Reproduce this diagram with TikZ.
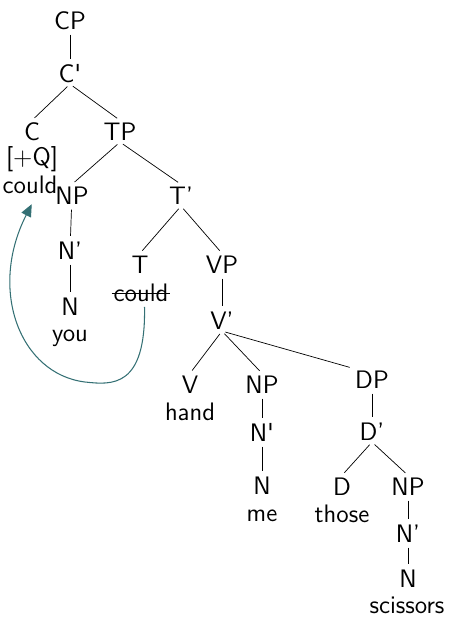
\documentclass[tikz,border=0pt]{standalone}
\usetikzlibrary{positioning,arrows.meta}
\renewcommand{\familydefault}{\sfdefault}
\definecolor{moveteal}{RGB}{52,112,116}
\tikzset{
	cat/.style={
		inner sep=1pt,
		font=\Large,
		anchor=base,
		text height=10pt,
		text depth=0pt
	}
}
\newcommand{\sq}{\textquotesingle}

\begin{document}
\begin{tikzpicture}[x=0.02cm,y=-0.02cm]
			\tikzstyle{word}=[inner sep=1pt, font=\Large, anchor=base]
			\tikzstyle{connect}=[thin, shorten >=2pt, shorten <=2pt]
			\tikzstyle{move}=[moveteal, semithick, -{Triangle[length=7pt,width=6pt]}]
			\useasboundingbox (0,0) rectangle (450,623);
			
			% coordinates give the baselines
			\node[cat] (cp) at (70,29) {CP};
			\node[cat] (cbar) at (70,82) {C\sq};
			\node[cat] (c) at (32,140) {C};
			\node[cat] (tp) at (120,140) {TP};
			\node[word] (q) at (32,165) {[+Q]};
			\node[word] (could) at (30,193) {could};
			\node[cat] (np) at (72,204) {NP};
			\node[cat] (tbar) at (181,204) {T'};
			\node[cat] (nbar) at (70,259) {N'};
			\node[cat] (n) at (70,315) {N};
			\node[word] (you) at (70,341) {you};
			\node[cat] (t) at (140,273) {T};
			\node[word] (trace) at (141,301) {could};
			\node[cat] (vp) at (222,273) {VP};
			\node[cat] (vbar) at (222,329) {V'};
			
			\node[cat] (v) at (190,393) {V};
			\node[word] (hand) at (190,420) {hand};
			\node[cat] (np2) at (262,393) {NP};
			\node[cat] (nbar2) at (262,441) {N\sq};
			\node[cat] (n2) at (262,494) {N};
			\node[word] (me) at (262,521) {me};
			\node[cat] (dp) at (372,388) {DP};
			\node[cat] (dbar) at (372,440) {D'};
			\node[cat] (d) at (342,495) {D};
			\node[word] (those) at (342,522) {those};
			\node[cat] (np3) at (408,495) {NP};
			\node[cat] (nbar3) at (408,542) {N'};
			\node[cat] (n3) at (408,587) {N};
			\node[word] (scissors) at (407,613) {scissors};
			
			\draw [connect] (cp) -- (cbar);
			\draw [connect] (cbar.south) -- (c.north);
			\draw [connect] (cbar.south) -- (tp.north);
			\draw [connect] (tp.south) -- (np.north);
			\draw [connect] (tp.south) -- (tbar.north);
			\draw [connect] (np) -- (nbar);
			\draw [connect] (nbar) -- (n);
			\draw [connect] (tbar.south) -- (t.north);
			\draw [connect] (tbar.south) -- (vp.north);
			\draw [connect] (vp) -- (vbar);
			\draw [connect] (vbar.south) -- (v.north);
			\draw [connect] (vbar.south) -- (np2.north);
			\draw [connect] (vbar.south) -- (dp.north west);
			\draw [connect] (np2) -- (nbar2);
			\draw [connect] (nbar2) -- (n2);
			\draw [connect] (dp) -- (dbar);
			\draw [connect] (dbar.south) -- (d.north);
			\draw [connect] (dbar.south) -- (np3.north);
			\draw [connect] (np3) -- (nbar3);
			\draw [connect] (nbar3) -- (n3);
			
			% struck-out copy of T
			\draw [thin] ([yshift=4.2pt]trace.base west) -- ([yshift=4.2pt]trace.base east);
			
			% head movement T to C
			\draw [move] ([xshift=2pt,yshift=-2pt]trace.south) .. controls (146,388) and (112,385) .. (85,382) .. controls (20,374) and (-12,290) .. ([xshift=1pt,yshift=-5pt]could.south);
			
			\end{tikzpicture}
\end{document}
